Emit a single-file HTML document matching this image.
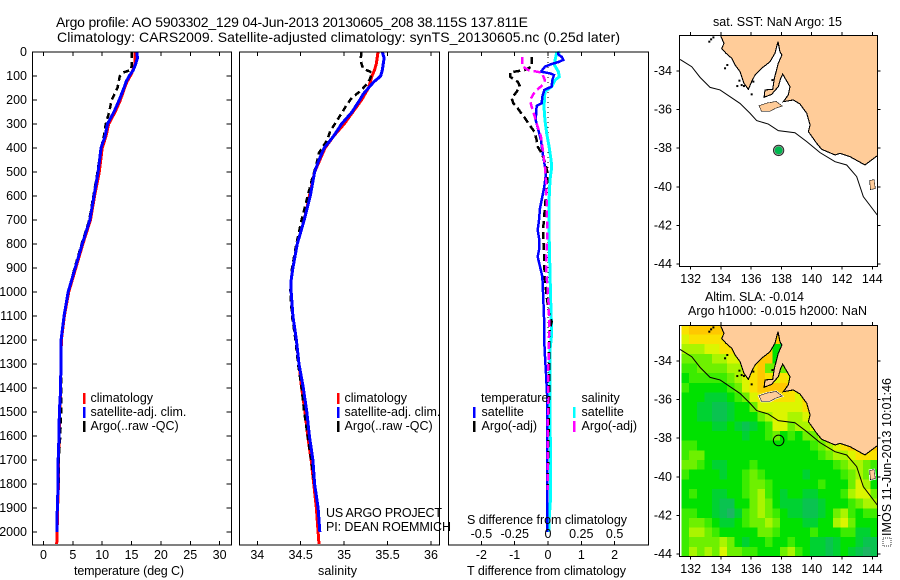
<!DOCTYPE html>
<html lang="en">
<head>
<meta charset="utf-8">
<title>Argo profile 5903302_129</title>
<style>
  html, body { margin: 0; padding: 0; background: #fff; }
  svg { display: block; }
  text { font-family: "Liberation Sans", sans-serif; font-size: 12.5px; fill: #000; }
  .t14 { font-size: 14px; }
  .box { fill: none; stroke: #000; stroke-width: 1.2; shape-rendering: crispEdges; }
  .tick { stroke: #000; stroke-width: 1; shape-rendering: crispEdges; }
</style>
</head>
<body>
<svg id="root" xmlns="http://www.w3.org/2000/svg" width="900" height="580" viewBox="0 0 900 580">
  <defs>
    <clipPath id="map1-clip"><rect x="680" y="36" width="197" height="230"/></clipPath>
    <clipPath id="map2-clip"><rect x="680" y="326" width="197" height="230"/></clipPath>
  </defs>
  <rect x="0" y="0" width="900" height="580" fill="#fff"/>

  <text class="t14" x="56" y="27" textLength="472" lengthAdjust="spacing">Argo profile: AO 5903302_129 04-Jun-2013 20130605_208 38.115S 137.811E</text>
  <text class="t14" x="57" y="42" textLength="563" lengthAdjust="spacing">Climatology: CARS2009. Satellite-adjusted climatology: synTS_20130605.nc (0.25d later)</text>

  <g id="temp-panel"></g>
  <g id="sal-panel"></g>
  <g id="diff-panel"></g>
  <g id="map1"></g>
  <g id="map2"></g>

  <text x="74" y="575" textLength="110" lengthAdjust="spacing">temperature (deg C)</text>
  <text x="318" y="575" textLength="39" lengthAdjust="spacing">salinity</text>
  <text x="467" y="575" textLength="159" lengthAdjust="spacing">T difference from climatology</text>
  <text x="467" y="524" textLength="160" lengthAdjust="spacing">S difference from climatology</text>

  <text x="326" y="517" textLength="116" lengthAdjust="spacing">US ARGO PROJECT</text>
  <text x="326" y="531" textLength="125" lengthAdjust="spacing">PI: DEAN ROEMMICH</text>

  <text x="713" y="26" textLength="129" lengthAdjust="spacing">sat. SST: NaN Argo: 15</text>
  <text x="705" y="301" textLength="99" lengthAdjust="spacing">Altim. SLA: -0.014</text>
  <text x="688" y="315" textLength="179" lengthAdjust="spacing">Argo h1000: -0.015 h2000: NaN</text>
  <rect x="883" y="538" width="8" height="8" fill="none" stroke="#333" stroke-width="1" stroke-dasharray="1 1"/>
  <text transform="translate(891 536) rotate(-90)" x="0" y="0" textLength="158" lengthAdjust="spacing">IMOS 11-Jun-2013 10:01:46</text>
</svg>

<script>
/* ---------- profile data ---------- */
const depthTicks = [0,100,200,300,400,500,600,700,800,900,1000,1100,1200,1300,1400,1500,1600,1700,1800,1900,2000];
const tempTicks = [0,5,10,15,20,25,30];
const salTicks = [34,34.5,35,35.5,36];
const salTickLabels = ['34','34.5','35','35.5','36'];
const tDiffTicks = [-2,-1,0,1,2];
const sDiffTicks = [-0.5,-0.25,0,0.25,0.5];
const sDiffTickLabels = ['-0.5','-0.25','0','0.25','0.5'];

const climTempDepth = [0,50,90,125,150,175,200,250,300,350,400,500,600,700,800,900,1000,1100,1200,1300,1400,1500,1600,1700,1800,1900,2000,2050];
const climTemp = [15.6,15.6,15.0,14.2,13.8,13.45,13.1,12.2,11.1,10.65,10.0,9.5,8.7,8.0,6.7,5.5,4.3,3.55,3.05,2.95,2.93,2.75,2.65,2.58,2.55,2.4,2.32,2.25];
const satTempDepth = [0,25,50,75,100,125,150,175,200,250,300,350,400,500,600,700,800,900,1000,1100,1200,1300,1400,1500,1600,1700,1800,1900,2000];
const satTemp = [15.9,16.0,15.7,15.3,14.6,14.05,13.7,13.3,12.9,12.0,10.9,10.5,9.8,9.3,8.6,7.9,6.6,5.4,4.2,3.5,3.0,2.95,2.93,2.7,2.64,2.5,2.5,2.35,2.3];
const argoTempDepth = [0,60,75,85,100,150,200,250,300,350,400,450,500,600,700,800,900,1000,1100,1200,1300,1400,1500,1600,1700,1810];
const argoTemp = [15.0,15.0,14.9,13.6,13.0,12.6,11.6,11.2,10.6,10.3,9.8,9.5,9.2,8.5,7.8,6.5,5.3,4.2,3.5,3.0,2.95,3.05,3.0,2.85,2.6,2.55];

const climSalDepth = [0,50,75,100,125,150,200,250,300,350,400,450,500,600,700,800,900,950,1000,1100,1200,1300,1400,1500,1600,1700,1800,1900,2000,2050];
const climSal = [35.39,35.37,35.35,35.32,35.3,35.28,35.2,35.1,35.0,34.88,34.78,34.72,34.66,34.6,34.54,34.46,34.41,34.39,34.39,34.41,34.45,34.48,34.51,34.55,34.58,34.62,34.65,34.68,34.7,34.71];
const satSalDepth = [0,25,50,75,100,110,125,150,175,200,250,300,350,400,450,500,600,700,800,900,950,1000,1100,1200,1300,1400,1500,1600,1700,1800,1900,2000];
const satSal = [35.44,35.46,35.45,35.44,35.42,35.39,35.34,35.28,35.22,35.18,35.09,34.97,34.88,34.77,34.71,34.66,34.61,34.54,34.46,34.41,34.39,34.39,34.41,34.45,34.48,34.53,34.57,34.6,34.64,34.66,34.7,34.72];
const argoSalDepth = [0,30,50,70,85,110,135,165,190,220,250,290,330,370,420,470,530,600,700,800,900,1000,1100,1200,1300,1400,1500,1600,1700,1810];
const argoSal = [35.2,35.19,35.2,35.22,35.32,35.3,35.26,35.18,35.09,35.03,34.98,34.91,34.84,34.8,34.71,34.68,34.63,34.58,34.51,34.45,34.40,34.38,34.40,34.44,34.47,34.51,34.54,34.58,34.62,34.66];

const tSatDiffDepth = [0,10,20,33,42,50,61,82,89,96,117,144,158,186,214,224,283,325,367,422,478,505,561,603,651,700,742,783,825,853,894,936,1033,1103,1214,1269,1339,1450,2000];
const tSatDiff = [0.31,0.31,0.41,0.46,0.31,0.11,-0.09,-0.21,0.06,0.18,0.13,0.11,-0.11,-0.17,-0.19,-0.34,-0.37,-0.29,-0.21,-0.16,-0.09,-0.06,-0.11,-0.17,-0.24,-0.27,-0.31,-0.26,-0.27,-0.31,-0.24,-0.17,-0.14,-0.12,-0.11,-0.09,-0.06,-0.02,-0.02];
const tArgoDiffDepth = [20,60,75,85,103,124,144,165,193,214,235,276,297,332,367,394,422,450,505,561,644,728,783,839,894,950,1019,1089,1124,1172,1311,1450,1810];
const tArgoDiff = [-0.49,-0.49,-0.69,-1.14,-1.14,-0.91,-0.84,-0.94,-1.09,-1.04,-0.91,-0.69,-0.59,-0.41,-0.34,-0.31,-0.19,-0.11,-0.01,-0.04,-0.09,-0.14,-0.14,-0.12,-0.11,-0.09,-0.04,0.03,0.11,0.03,0.03,0.03,-0.01];
const sSatDiffDepth = [0,5,33,54,82,103,117,144,165,228,283,339,394,450,478,533,617,756,922,1033,1172,1242,1450,1853,1950,2000];
const sSatDiff = [0.09,0.065,0.053,0.048,0.078,0.085,0.053,0.028,-0.023,-0.03,-0.023,-0.01,0.008,0.023,0.028,0.015,0.008,0.008,0.015,0.02,0.028,0.015,0.015,0.02,0.008,0.008];
const sArgoDiffDepth = [20,60,75,86,117,135,165,200,228,262,311,353,422,478,533,644,756,894,936,1033,1103,1172,1311,1450,1575,1825];
const sArgoDiff = [-0.193,-0.193,-0.148,-0.048,-0.023,-0.035,-0.098,-0.135,-0.123,-0.103,-0.078,-0.053,-0.035,-0.023,-0.015,-0.01,-0.005,-0.015,-0.01,0.003,0.008,0.008,0.003,0.003,-0.003,-0.003];

/* ---------- map data (longitude / latitude) ---------- */
const lonTicks = [132,134,136,138,140,142,144];
const latTicks = [-34,-36,-38,-40,-42,-44];
const floatLon = 137.811;
const floatLat = -38.115;
const coastLon = [133.1,133.8,133.98,134.2,134.05,134.33,134.71,134.93,135.26,135.52,135.81,136.03,136.25,136.69,137.24,137.57,137.77,137.9,138.03,137.79,137.53,137.42,136.91,136.85,137.35,137.79,137.95,138.08,138.56,138.45,138.12,138.78,139.22,139.67,139.89,139.78,140.33,140.66,141.54,141.87,142.53,143.52,144.33];
const coastLat = [-32.16,-32.17,-32.17,-32.57,-32.83,-33.08,-33.34,-33.69,-34.03,-34.64,-34.95,-34.55,-34.21,-33.86,-33.52,-33.08,-32.48,-33.0,-33.17,-33.6,-34.38,-34.95,-34.98,-35.36,-35.21,-34.81,-34.38,-34.16,-34.81,-35.24,-35.59,-35.5,-35.71,-36.19,-36.8,-37.14,-37.75,-38.06,-38.35,-38.27,-38.44,-38.87,-38.39];
const kangarooLon = [136.54,137.02,137.64,138.01,137.57,137.24,136.69];
const kangarooLat = [-35.81,-35.68,-35.59,-35.81,-35.93,-36.07,-36.07];
const kingLon = [143.85,144.11,144.18,143.89];
const kingLat = [-39.68,-39.65,-40.08,-40.13];
const isletLon = [134.27,134.42,135.22,135.37,135.08,135.52,136.03,136.14,137.4,133.23,133.5,133.35];
const isletLat = [-33.86,-33.69,-34.5,-34.73,-34.78,-34.78,-35.21,-34.55,-34.47,-32.48,-32.26,-32.36];
const isobathLon = [131.3,132.07,132.62,133.28,133.94,134.6,135.26,135.92,136.36,137.13,137.79,138.89,139.67,140.55,141.54,142.31,142.97,143.41,144.33];
const isobathLat = [-33.4,-33.78,-34.33,-34.85,-34.98,-35.33,-35.68,-36.19,-36.57,-36.75,-37.09,-37.2,-37.66,-38.23,-38.7,-38.87,-39.47,-40.51,-41.46];

/* SLA colour level on a 0.5 degree grid, north to south */
const gridStartLon = 131.4;
const gridStartLat = -32.13;
const gridStep = 0.5;
const slaGrid = [
[8,9,9,9,9,9,9,9,9,9,9,9,9,4,9,9,9,9,9,9,9,9,9,9,9,9],
[7,8,8,8,8,8,9,9,9,9,9,9,9,2,9,9,9,9,9,9,9,9,9,9,9,9],
[6,6,6,7,7,8,8,9,9,9,9,9,3,2,9,9,9,9,9,9,9,9,9,9,9,9],
[5,5,5,5,6,6,7,7,8,9,9,9,3,3,9,9,9,9,9,9,9,9,9,9,9,9],
[4,4,5,5,5,5,6,6,7,8,9,5,5,5,7,7,9,9,9,9,9,9,9,9,9,9],
[3,4,4,4,4,4,5,6,7,8,9,8,7,8,7,7,9,9,9,9,9,9,9,9,9,9],
[4,3,3,3,3,3,4,5,7,8,9,9,9,9,8,8,8,9,9,9,9,9,9,9,9,9],
[3,3,3,2,2,2,3,4,5,7,8,8,8,8,8,7,9,10,10,10,10,10,10,10,10,10],
[3,3,2,2,1,1,2,3,3,5,7,7,7,7,7,7,8,9,11,11,10,10,10,10,10,10],
[3,3,2,2,1,1,2,3,3,3,5,6,7,7,6,6,7,8,10,11,10,10,10,10,10,10],
[3,3,3,3,2,2,3,2,1,2,3,4,7,7,5,6,6,7,8,10,9,9,9,9,9,9],
[3,3,3,3,3,3,3,3,2,3,3,4,5,3,4,3,5,5,6,7,8,9,9,9,9,9],
[4,4,3,3,3,3,3,3,3,3,3,3,3,3,3,3,3,4,5,6,7,8,9,9,9,9],
[4,5,5,3,3,3,3,3,3,3,3,3,3,3,3,3,3,3,4,5,6,6,7,8,8,8],
[5,5,4,3,2,2,3,3,3,4,3,3,3,3,3,3,3,3,3,3,4,5,6,6,5,4],
[4,3,3,3,3,2,3,3,4,5,4,3,3,3,3,3,2,3,3,3,3,4,5,6,5,3],
[3,3,3,3,3,3,3,3,4,5,5,4,3,3,3,3,3,3,4,3,3,3,5,7,6,3],
[3,4,3,3,2,2,3,3,4,5,6,4,3,2,3,3,2,2,3,3,3,4,6,7,7,5],
[3,3,3,3,2,1,1,3,3,5,6,5,3,2,2,2,1,1,2,3,3,3,4,5,6,6],
[4,4,3,3,2,1,0,2,4,5,6,5,4,3,2,2,1,1,2,3,5,6,4,3,4,4],
[4,5,5,4,3,2,2,3,4,5,5,6,5,3,3,3,2,2,3,3,6,7,5,3,3,3],
[4,6,6,5,4,3,3,3,3,3,5,5,4,3,3,3,3,4,3,3,3,4,4,2,2,3],
[4,5,5,5,5,6,5,3,2,3,3,4,3,3,4,3,3,2,2,1,2,3,3,2,1,1],
[4,6,5,6,5,7,5,5,4,4,3,3,3,5,6,4,3,2,2,1,2,3,2,1,0,1]
];
const slaColors = ['#1eb464','#0ac350','#00d232','#00e100','#3cec00','#6ef000','#aaf500','#dcf500','#fae100','#ffc800','#faaa00','#f59100'];

/* ---------- scales ---------- */
const yDepth = d => 52 + 0.24 * d;
const xTemp = t => 43.5 + 5.87 * t;
const xSal = s => 257.3 + 86.85 * (s - 34);
const xTDiff = t => 548 + 33.3 * t;
const xSDiff = s => 548 + 133.2 * s;
const xLon = lon => 690.7 + 15.13 * (lon - 132);
const yLat = (lat, top) => top + 36 + 19.3 * (-34 - lat);

const NS = 'http://www.w3.org/2000/svg';
function mk(tag, parent, attrs, txt) {
  const e = document.createElementNS(NS, tag);
  for (const k in attrs) e.setAttribute(k, attrs[k]);
  if (txt !== undefined) e.textContent = txt;
  parent.appendChild(e);
  return e;
}
function pathFrom(xs, ys) {
  return xs.map((x, i) => (i ? 'L' : 'M') + x.toFixed(2) + ' ' + ys[i].toFixed(2)).join('');
}

/* ---------- profile panels ---------- */
function panelFrame(g, x0, x1) {
  const b = mk('rect', g, {class: 'box', x: x0, y: 52, width: x1 - x0, height: 493});
  
  
}
function xTicks(g, ticks, labels, xf, labelY, showLabels) {
  ticks.forEach((v, i) => {
    const top = mk('line', g, {class: 'tick', x1: xf(v), x2: xf(v), y1: 52, y2: 56});
    
    
    const bot = mk('line', g, {class: 'tick', x1: xf(v), x2: xf(v), y1: 545, y2: 541});
    
    
    if (showLabels) {
      const t = mk('text', g, {x: xf(v), y: labelY, 'text-anchor': 'middle'}, labels[i]);
      
      
    }
  });
}
function profile(g, name, xs, ds, xf, color, width, dash) {
  const attrs = {d: pathFrom(xs.map(xf), ds.map(yDepth)), fill: 'none', stroke: color, 'stroke-width': width, 'shape-rendering': 'crispEdges', 'stroke-linejoin': 'miter'};
  if (dash) attrs['stroke-dasharray'] = dash;
  const p = mk('path', g, attrs);
  
  
}
function legendEntry(g, barX, textX, baseline, color, label) {
  const b = mk('rect', g, {x: barX, y: baseline - 9, width: 2.5, height: 11, fill: color});
  
  
  const t = mk('text', g, {x: textX, y: baseline}, label);
  
  
}

const tempG = document.getElementById('temp-panel');
profile(tempG, 'climatology-temperature-line', climTemp, climTempDepth, xTemp, '#f00', 3);
profile(tempG, 'argo-temperature-line', argoTemp, argoTempDepth, xTemp, '#000', 2.5, '6 4');
profile(tempG, 'satellite-temperature-line', satTemp, satTempDepth, xTemp, '#00f', 3);
panelFrame(tempG, 32.5, 231.5);
xTicks(tempG, tempTicks, tempTicks.map(String), xTemp, 559, true);
depthTicks.forEach(d => {
  const l = mk('line', tempG, {class: 'tick', x1: 32.5, x2: 37, y1: yDepth(d), y2: yDepth(d)});
  
  
  const r = mk('line', tempG, {class: 'tick', x1: 231.5, x2: 226.5, y1: yDepth(d), y2: yDepth(d)});
  
  
  const t = mk('text', tempG, {x: 27, y: yDepth(d) + 4, 'text-anchor': 'end'}, String(d));
  
  
});
legendEntry(tempG, 83, 90.5, 402, '#f00', 'climatology');
legendEntry(tempG, 83, 90.5, 416, '#00f', 'satellite-adj. clim.');
legendEntry(tempG, 83, 90.5, 430, '#000', 'Argo(..raw -QC)');

const salG = document.getElementById('sal-panel');
profile(salG, 'climatology-salinity-line', climSal, climSalDepth, xSal, '#f00', 3);
profile(salG, 'argo-salinity-line', argoSal, argoSalDepth, xSal, '#000', 2.5, '6 4');
profile(salG, 'satellite-salinity-line', satSal, satSalDepth, xSal, '#00f', 3);
panelFrame(salG, 239.5, 439.5);
xTicks(salG, salTicks, salTickLabels, xSal, 559, true);
legendEntry(salG, 337, 344.5, 402, '#f00', 'climatology');
legendEntry(salG, 337, 344.5, 416, '#00f', 'satellite-adj. clim.');
legendEntry(salG, 337, 344.5, 430, '#000', 'Argo(..raw -QC)');

const diffG = document.getElementById('diff-panel');
const zeroDepth = [0, 2000];
const zeroVal = [0, 0];
profile(diffG, 'zero-reference-line', zeroVal, zeroDepth, xTDiff, '#000', 1, '1 4');
profile(diffG, 'salinity-satellite-difference-line', sSatDiff, sSatDiffDepth, xSDiff, '#0ff', 3);
profile(diffG, 'temperature-satellite-difference-line', tSatDiff, tSatDiffDepth, xTDiff, '#00f', 2.5);
profile(diffG, 'temperature-argo-difference-line', tArgoDiff, tArgoDiffDepth, xTDiff, '#000', 2.5, '7 4');
profile(diffG, 'salinity-argo-difference-line', sArgoDiff, sArgoDiffDepth, xSDiff, '#f0f', 2.5, '7 4');
panelFrame(diffG, 448.5, 648.5);
xTicks(diffG, tDiffTicks, tDiffTicks.map(String), xTDiff, 559, true);
sDiffTicks.forEach((v, i) => {
  const t = mk('text', diffG, {x: xSDiff(v), y: 538, 'text-anchor': 'middle'}, sDiffTickLabels[i]);
  
  
});
const tHead = mk('text', diffG, {x: 481, y: 402}, 'temperature');


const sHead = mk('text', diffG, {x: 581.5, y: 402}, 'salinity');


legendEntry(diffG, 473, 481.5, 416, '#00f', 'satellite');
legendEntry(diffG, 473, 481.5, 430, '#000', 'Argo(-adj)');
legendEntry(diffG, 573, 581.5, 416, '#0ff', 'satellite');
legendEntry(diffG, 573, 581.5, 430, '#f0f', 'Argo(-adj)');

/* ---------- maps ---------- */
function landShape(g, lons, lats, top, closeTop, halo) {
  let d = pathFrom(lons.map(xLon), lats.map(v => yLat(v, top)));
  const outline = d;
  if (closeTop) {
    d += 'L' + xLon(144.6) + ' ' + yLat(lats[lats.length - 1], top) + 'L' + xLon(144.6) + ' ' + (top - 5) + 'L' + xLon(lons[0]) + ' ' + (top - 5) + 'Z';
  } else {
    d += 'Z';
  }
  if (halo) {
    const ring = mk('path', g, {d: d, fill: 'none', stroke: '#fff', 'stroke-width': 2.5});
    
    
  }
  const out = mk('path', g, {d: closeTop ? outline : d, fill: 'none', stroke: '#000', 'stroke-width': 1.1, 'shape-rendering': 'crispEdges'});
  
  
  const fill = mk('path', g, {d: d, fill: '#ffcc99', stroke: 'none'});
  
  
  if (closeTop) {
    const outTop = mk('path', g, {d: outline, fill: 'none', stroke: '#000', 'stroke-width': 1.1, 'shape-rendering': 'crispEdges'});
    
    
  }
}
function drawMap(id, top, clipId, withHeat) {
  const g = document.getElementById(id);
  const bottom = top + 231.5;
  const clip = mk('g', g, {'clip-path': 'url(#' + clipId + ')'});
  
  
  if (withHeat) {
    const w = gridStep * 15.13;
    const h = gridStep * 19.3;
    slaGrid.forEach((row, j) => row.forEach((v, i) => {
      const x = xLon(gridStartLon + i * gridStep);
      const y = yLat(gridStartLat - j * gridStep, top);
      const c = mk('rect', clip, {x: x, y: y, width: w + 0.4, height: h + 0.4, fill: slaColors[v], 'shape-rendering': 'crispEdges'});
      
      
    }));
  }
  landShape(clip, coastLon, coastLat, top, true, false);
  landShape(clip, kangarooLon, kangarooLat, top, false, withHeat);
  landShape(clip, kingLon, kingLat, top, false, withHeat);
  isletLon.forEach((lon, i) => {
    const s = mk('rect', clip, {x: xLon(lon) - 1, y: yLat(isletLat[i], top) - 1, width: 2, height: 2, fill: '#000'});
    
    
  });
  const iso = mk('path', clip, {d: pathFrom(isobathLon.map(xLon), isobathLat.map(v => yLat(v, top))), fill: 'none', stroke: '#000', 'stroke-width': 1});
  
  
  const cx = xLon(floatLon), cy = yLat(floatLat, top);
  if (!withHeat) {
    const halo = mk('circle', g, {cx: cx, cy: cy, r: 5.2, fill: '#9a9a9a', stroke: '#222', 'stroke-width': 0.9});
    
    
  }
  const marker = mk('circle', g, withHeat
    ? {cx: cx, cy: cy, r: 5.3, fill: 'none', stroke: '#000', 'stroke-width': 1}
    : {cx: cx, cy: cy, r: 3.9, fill: '#00b84f', stroke: 'none'});
  
  

  const frame = mk('rect', g, {class: 'box', x: 679.5, y: top + 0.5, width: 198, height: 231});
  
  
  lonTicks.forEach(v => {
    const a = mk('line', g, {class: 'tick', x1: xLon(v), x2: xLon(v), y1: top, y2: top - 3});
    
    
    const b = mk('line', g, {class: 'tick', x1: xLon(v), x2: xLon(v), y1: bottom, y2: bottom + 3});
    
    
    const t = mk('text', g, {x: xLon(v), y: top + 248, 'text-anchor': 'middle'}, String(v));
    
    
  });
  latTicks.forEach(v => {
    const y = yLat(v, top);
    const a = mk('line', g, {class: 'tick', x1: 679.5, x2: 676.5, y1: y, y2: y});
    
    
    const b = mk('line', g, {class: 'tick', x1: 877.5, x2: 880.5, y1: y, y2: y});
    
    
    const t = mk('text', g, {x: 672, y: y + 4, 'text-anchor': 'end'}, String(v));
    
    
  });
}
drawMap('map1', 35, 'map1-clip', false);
drawMap('map2', 325, 'map2-clip', true);
</script>
</body>
</html>
